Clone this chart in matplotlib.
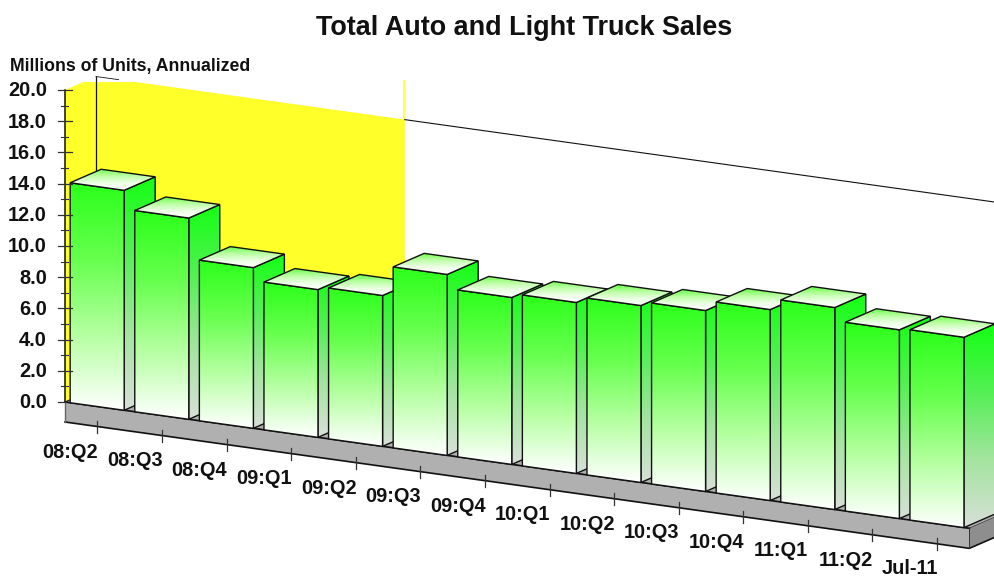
import numpy as np
from matplotlib import pyplot as plt
from matplotlib.colors import LinearSegmentedColormap
from matplotlib.patches import Polygon

plt.rcParams['font.family'] = ['Liberation Sans', 'DejaVu Sans']

categories = ['08:Q2', '08:Q3', '08:Q4', '09:Q1', '09:Q2', '09:Q3', '09:Q4',
              '10:Q1', '10:Q2', '10:Q3', '10:Q4', '11:Q1', '11:Q2', 'Jul-11']
sales = [14.1, 12.9, 10.3, 9.47, 9.67, 11.6, 10.7, 10.96, 11.34, 11.6, 12.24, 12.95, 12.1, 12.2]
y_ticks = [0, 2, 4, 6, 8, 10, 12, 14, 16, 18, 20]
y_minor = [1, 3, 5, 7, 9, 11, 13, 15, 17, 19]
recession_end = 4.78

# oblique projection, category position / value / depth -> pixels
X0, Y0 = 65, 402
PITCH = 64.6
SLOPE = 0.1397
UNIT = 15.6
DX, DY = 31, -13.5
BAR_LEFT = 0.08
BAR_W = 0.836


def project(pos, val=0, depth=0):
    return (X0 + PITCH * pos + DX * depth,
            Y0 + SLOPE * PITCH * pos - UNIT * val + DY * depth)


front_cmap = LinearSegmentedColormap.from_list('front', ['#2bff1a', '#66ff4d', '#b4ffa0', '#ffffff'])
side_cmap = LinearSegmentedColormap.from_list('side', ['#14ff14', '#55f055', '#a4e4a0', '#d8e0d8'])
top_cmap = LinearSegmentedColormap.from_list('top', ['#60ff40', '#b8ffa0', '#ecffe4', '#ffffff'])


def shade(ax, pts, cmap, zorder):
    # vertical gradient clipped to the polygon
    pts = np.array(pts)
    grad = np.linspace(0, 1, 256).reshape(-1, 1)
    im = ax.imshow(grad, cmap=cmap, aspect='auto', zorder=zorder, interpolation='bilinear',
                   extent=[pts[:, 0].min(), pts[:, 0].max(), pts[:, 1].max(), pts[:, 1].min()])
    poly = Polygon(pts, closed=True, facecolor='none', edgecolor='#111111', lw=1.0, zorder=zorder + 0.1)
    ax.add_patch(poly)
    im.set_clip_path(poly)


fig = plt.figure(figsize=(9.95, 5.78), dpi=100)
ax = fig.add_axes([0, 0, 1, 1])
ax.axis('off')

# back wall, recession band
band = [project(0, 20), project(0, 20, 1), project(recession_end, 20, 1),
        project(recession_end, 0, 1), project(0, 0, 1), project(0, 0)]
ax.add_patch(Polygon(band, closed=True, facecolor='#ffff2a', edgecolor='none', zorder=1))
ax.fill_between([0, 400], 0, 81.5, color='white', zorder=1.1, lw=0)
px, py = project(recession_end, 20, 1)
ax.plot([px - 0.5, px - 0.5], [81, py], color='#ffff2a', lw=1.2, zorder=1.2)

# wall outline
ax.plot(*zip(project(recession_end, 20, 1), project(14.5, 20, 1)), color='#111111', lw=0.8, zorder=1.3)
ax.plot(*zip(project(0, 20, 1), project(0.35, 20, 1)), color='#111111', lw=0.6, zorder=1.3)
ax.plot(*zip(project(0, 20, 1), project(0, 0, 1)), color='#111111', lw=0.9, zorder=1.3)

# floor and plinth
floor = [project(0), project(14), project(14, 0, 1), project(0, 0, 1)]
ax.add_patch(Polygon(floor, closed=True, facecolor='#b0b0b0', edgecolor='#222222', lw=0.8, zorder=2))
PLINTH = 20
xa, ya = project(0)
xb, yb = project(14)
xc, yc = project(14, 0, 1)
ax.add_patch(Polygon([(xa, ya), (xb, yb), (xb, yb + PLINTH), (xa, ya + PLINTH)], closed=True,
                     facecolor='#b0b0b0', edgecolor='none', zorder=2.2))
ax.add_patch(Polygon([(xb, yb), (xc, yc), (xc, yc + PLINTH), (xb, yb + PLINTH)], closed=True,
                     facecolor='#8e8e8e', edgecolor='none', zorder=2.2))
ax.plot([xa, xb, xc], [ya + PLINTH, yb + PLINTH, yc + PLINTH], color='#111111', lw=1.2, zorder=2.3)
ax.plot([xa, xb], [ya, yb], color='#111111', lw=1.2, zorder=2.3)
ax.plot([xb, xb], [yb, yb + PLINTH], color='#333333', lw=0.7, zorder=2.3)

# bars, painted left to right since the right ones sit nearer
for i, v in enumerate(sales):
    l, r = i + BAR_LEFT, i + BAR_LEFT + BAR_W
    z = 3 + i
    shade(ax, [project(r, v), project(r, v, 1), project(r, 0, 1), project(r, 0)], side_cmap, z)
    shade(ax, [project(l, v), project(r, v), project(r), project(l)], front_cmap, z + 0.2)
    shade(ax, [project(l, v), project(l, v, 1), project(r, v, 1), project(r, v)], top_cmap, z + 0.4)

# y axis
ax.plot([X0, X0], [Y0 - 20 * UNIT, Y0], color='#111111', lw=1.1, zorder=30)
ax.plot([X0, X0], [Y0, Y0 + PLINTH], color='#666666', lw=1.0, zorder=30)
for t in y_ticks:
    y = Y0 - t * UNIT
    ax.plot([X0 - 7, X0 + 7 if t else X0], [y, y], color='#333333', lw=0.9, zorder=31)
    ax.text(47, y + 1, '%.1f' % t, ha='right', va='center', fontsize=14.4,
            fontweight='bold', color='#111111', zorder=32)
for t in y_minor:
    y = Y0 - t * UNIT
    ax.plot([X0 - 4, X0 + 3], [y, y], color='#333333', lw=0.8, zorder=31)

# category ticks and labels
for i, c in enumerate(categories):
    x, y = project(i + 0.5)
    ax.plot([x, x], [y + PLINTH - 6, y + PLINTH + 6], color='#333333', lw=0.9, zorder=31)
    ax.text(x - 27, 452 + 9 * i, c, ha='center', va='center', fontsize=14.4,
            fontweight='bold', color='#111111', zorder=32)

ax.text(130, 66.5, 'Millions of Units, Annualized', ha='center', va='center', fontsize=12.7,
        fontweight='bold', color='#111111', zorder=32)
ax.text(524, 28, 'Total Auto and Light Truck Sales', ha='center', va='center', fontsize=19.45,
        fontweight='bold', color='#111111', zorder=32)

ax.set_xlim(0, 995)
ax.set_ylim(578, 0)
fig.savefig('out.png', dpi=100, facecolor='white')
